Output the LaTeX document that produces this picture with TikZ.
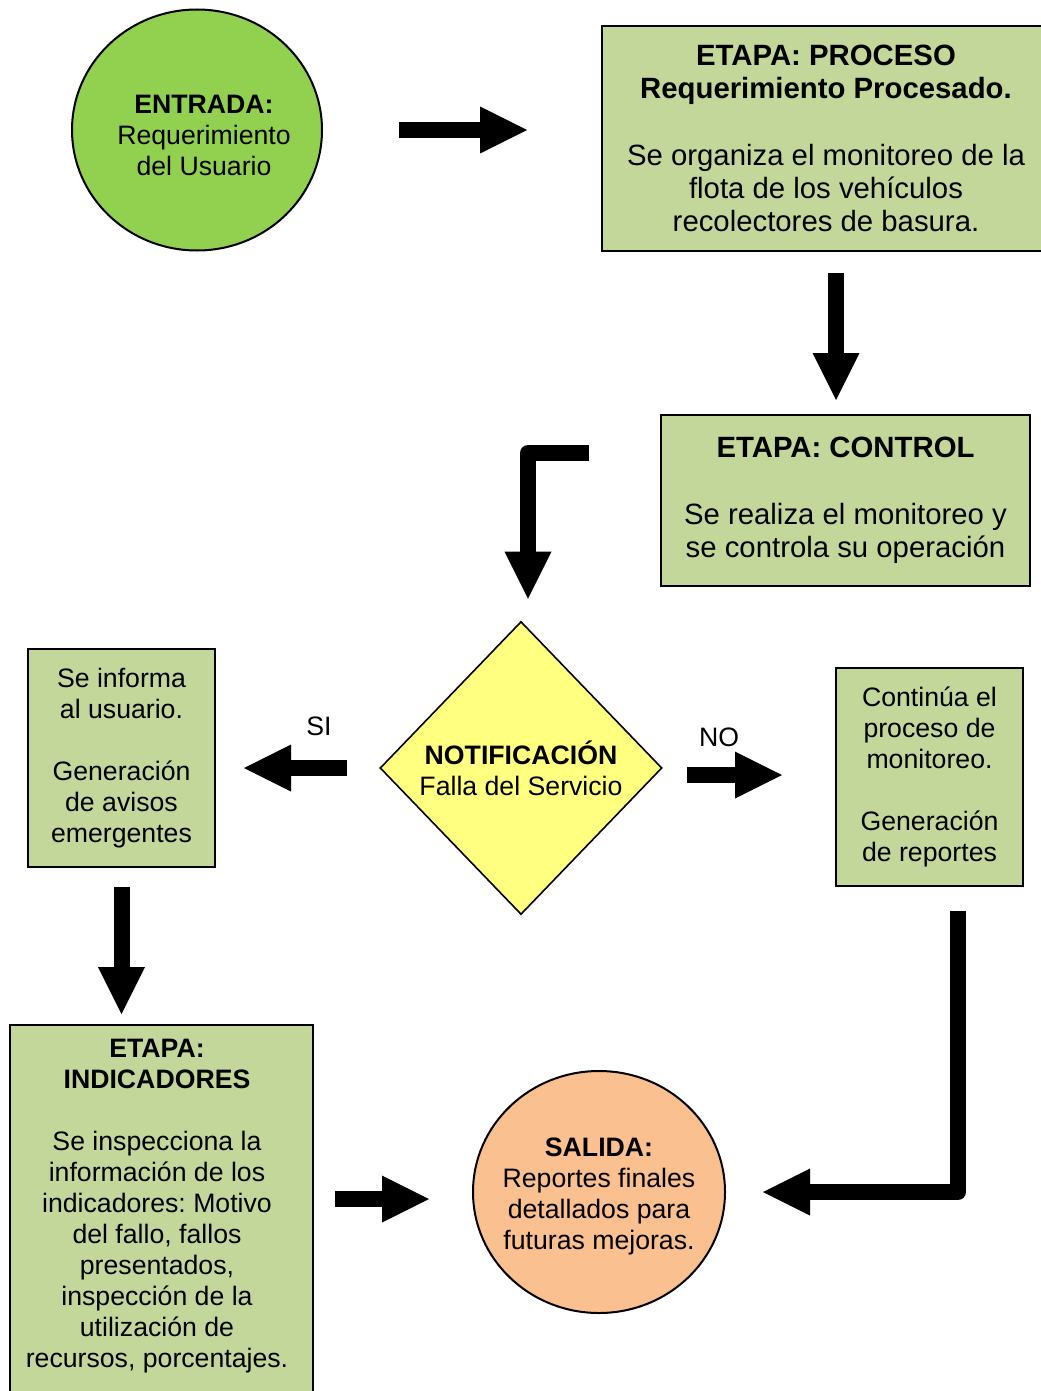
\documentclass[tikz,border=0pt]{standalone}
\usepackage{fontspec}
\setmainfont{Liberation Sans}
\frenchspacing
\usetikzlibrary{arrows.meta,positioning,shapes.geometric}

\definecolor{verdeEntrada}{RGB}{146,208,80}
\definecolor{verdeEtapa}{RGB}{196,215,155}
\definecolor{amarilloNotif}{RGB}{255,255,128}
\definecolor{naranjaSalida}{RGB}{250,192,144}

\tikzset{
  textogrande/.style={font=\fontsize{22}{25}\selectfont},
  textochico/.style={font=\fontsize{20}{23.25}\selectfont},
  etapa/.style={draw, line width=1.5pt, fill=verdeEtapa, align=center, inner sep=0pt},
  circulo/.style={ellipse, draw, line width=1.5pt, align=center, inner sep=0pt, textochico},
  flecha/.style={line width=12pt, line join=round, -{Triangle[length=35.25pt 0, width=35.25pt 0, line width=0pt]}},
}

\begin{document}
\begin{tikzpicture}[x=0.75pt,y=0.75pt,yscale=-1,xscale=1]
\useasboundingbox (0,0) rectangle (1041,1391);

%Shape: Ellipse [id:entrada]
\node [circulo, fill=verdeEntrada, inner xsep=-4pt, minimum width=187.5pt, minimum height=180.75pt] (entrada) at (197,130) {};
% Text Node
\node [textochico, align=center, inner sep=0pt] (entradatexto) at (204,135) {\textbf{ENTRADA:}\\Requerimiento\\del Usuario};
%Shape: Rectangle [id:proceso]
\node [etapa, textogrande, minimum width=336pt, minimum height=168.75pt] (proceso) at (826,138.5) {\textbf{ETAPA: PROCESO}\\\textbf{Requerimiento Procesado.}\\[25pt]Se organiza el monitoreo de la\\flota de los vehículos\\recolectores de basura.};
%Shape: Rectangle [id:control]
\node [etapa, textogrande, minimum width=276.75pt, minimum height=128.25pt] (control) at (845.5,500.5) {\textbf{ETAPA: CONTROL}\\[25pt]Se realiza el monitoreo y\\se controla su operación};
%Shape: Diamond [id:notif]
\node [diamond, draw, line width=1.2pt, fill=amarilloNotif, align=center, inner sep=0pt, textochico, minimum width=211.5pt, minimum height=219.75pt] (notif) at (521,768) {\textbf{NOTIFICACIÓN}\\Falla del Servicio};
%Shape: Rectangle [id:informa]
\node [etapa, textochico, minimum width=140.25pt, minimum height=163.5pt] (informa) at (121.5,758) {Se informa\\al usuario.\\[23.25pt]Generación\\de avisos\\emergentes};
%Shape: Rectangle [id:continua]
\node [etapa, textochico, minimum width=140.25pt, minimum height=163.5pt] (continua) at (929.5,777) {Continúa el\\proceso de\\monitoreo.\\[23.25pt]Generación\\de reportes};
%Shape: Rectangle [id:indicadores]
\node [etapa, minimum width=227.25pt, minimum height=277.5pt] (indicadores) at (161.5,1210) {};
% Text Node
\node [textochico, align=center, inner sep=0pt] (indicadorestexto) at (157,1206) {\textbf{ETAPA:}\\\textbf{INDICADORES}\\[23.25pt]Se inspecciona la\\información de los\\indicadores: Motivo\\del fallo, fallos\\presentados,\\inspección de la\\utilización de\\recursos, porcentajes.};
%Shape: Ellipse [id:salida]
\node [circulo, fill=naranjaSalida, minimum width=189pt, minimum height=181.5pt] (salida) at (599,1192) {};
% Text Node
\node [textochico, align=center, inner sep=0pt] (salidatexto) at (599,1196) {\textbf{SALIDA:}\\Reportes finales\\detallados para\\futuras mejoras.};

%Straight Lines [id:entrada-proceso]
\draw [flecha, shorten <=57pt, shorten >=55.5pt] (entrada.east) -- (entrada.east -| proceso.west) ;
%Straight Lines [id:proceso-control]
\draw [flecha, shorten <=15.75pt, shorten >=10.5pt] ([xshift=7.5pt]proceso.south) -- ([xshift=7.5pt]proceso.south |- control.north) ;
%Elbow Lines [id:control-notif]
\draw [flecha, shorten <=53.25pt, shorten >=16.5pt] ([yshift=-35.6pt]control.west) -| ([xshift=5.25pt]notif.north) ;
%Straight Lines [id:notif-informa]
\draw [flecha, shorten <=24pt, shorten >=21pt] (notif.west) -- (notif.west -| informa.east) ;
%Straight Lines [id:notif-continua]
\draw [flecha, shorten <=18pt, shorten >=39.75pt] ([yshift=5.25pt]notif.east) -- ([yshift=5.25pt]notif.east -| continua.west) ;
%Straight Lines [id:informa-indicadores]
\draw [flecha, shorten <=14.25pt, shorten >=7.5pt] (informa.south) -- (informa.south |- indicadores.north) ;
%Straight Lines [id:indicadores-salida]
\draw [flecha, shorten <=15.75pt, shorten >=32.25pt] ([yshift=-8.25pt]indicadores.east) -- ([yshift=-8.25pt]indicadores.east -| salida.west) ;
%Elbow Lines [id:continua-salida]
\draw [flecha, shorten <=18pt, shorten >=27.75pt] ([xshift=21.4pt]continua.south) |- (salida.east) ;

% Text Node
\node [textochico, inner sep=0.75pt] (si) at (319,726) {SI};
% Text Node
\node [textochico, inner sep=0.75pt] (no) at (719,737) {NO};

\end{tikzpicture}
\end{document}
